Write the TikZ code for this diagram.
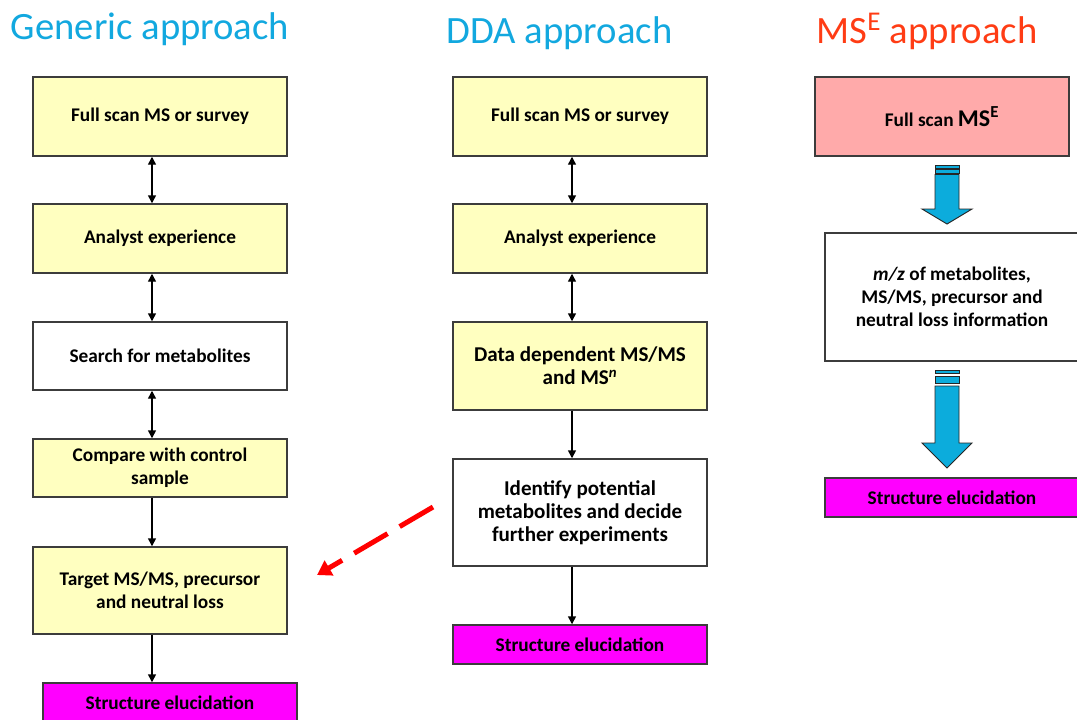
\documentclass[tikz,border=0pt]{standalone}
\usepackage{fontspec}
\setmainfont{Carlito}
\usetikzlibrary{arrows.meta}
\definecolor{titleblue}{RGB}{18,168,223}
\definecolor{titlered}{RGB}{255,60,20}
\definecolor{boxyellow}{RGB}{255,255,192}
\definecolor{boxpink}{RGB}{255,170,170}
\definecolor{boxmagenta}{RGB}{255,0,255}
\definecolor{boxline}{RGB}{60,60,60}
\definecolor{blockblue}{RGB}{12,172,220}
\begin{document}
\begin{tikzpicture}[x=0.75pt,y=-0.75pt,>={Triangle[length=6pt,width=6pt]},
	box/.style={draw=boxline,line width=1.1pt,minimum width=190.5pt,align=center,
		inner sep=2pt,font=\bfseries\fontsize{14.5}{17.3}\selectfont},
	bigtext/.style={font=\bfseries\fontsize{15.8}{17.4}\selectfont},
	yellowbox/.style={box,fill=boxyellow},
	whitebox/.style={box,fill=white},
	pinkbox/.style={box,fill=boxpink},
	resultbox/.style={box,fill=boxmagenta,minimum height=29.25pt},
	title/.style={anchor=base,font=\fontsize{29}{34}\selectfont},
	link/.style={line width=1.1pt,black},
	block/.style={fill=blockblue,draw=black!85,line width=0.7pt},
	dasharrow/.style={red,line width=3.75pt,dash pattern=on 29pt off 10.5pt,
		-{Triangle[length=10.5pt,width=12.5pt]}}]
	\useasboundingbox (0,0) rectangle (1077,719);
	\clip (0,0) rectangle (1077,719);
	% titles
	\node[title,text=titleblue] (tgen) at (150,39) {Generic approach};
	\node[title,text=titleblue] (tdda) at (559.5,43) {DDA approach};
	\node[title,text=titlered] (tmse) at (927,43) {MS\textsuperscript{E} approach};
	% generic approach
	\node[yellowbox,minimum height=59.25pt] (g1) at (160,116.5) {Full scan MS or survey};
	\node[yellowbox,minimum height=51.75pt] (g2) at (160,238.5) {Analyst experience};
	\node[whitebox,minimum height=51pt] (g3) at (160,356) {Search for metabolites};
	\node[yellowbox,minimum height=43.5pt] (g4) at (160,468) {Compare with control\\sample};
	\node[yellowbox,minimum height=65.25pt] (g5) at (160,590.5) {Target MS/MS, precursor\\and neutral loss};
	\node[resultbox] (g6) at (170,702.5) {Structure elucidation};
	\draw[link,<->] ([xshift=-6pt]g1.south) -- ([xshift=-6pt]g2.north);
	\draw[link,<->] ([xshift=-6pt]g2.south) -- ([xshift=-6pt]g3.north);
	\draw[link,<->] ([xshift=-6pt]g3.south) -- ([xshift=-6pt]g4.north);
	\draw[link,->] ([xshift=-6pt]g4.south) -- ([xshift=-6pt]g5.north);
	\draw[link,->] ([xshift=-6pt]g5.south) -- ([xshift=-6pt]g5.south|-g6.north);
	% DDA approach
	\node[yellowbox,minimum height=59.25pt] (d1) at (580,116.5) {Full scan MS or survey};
	\node[yellowbox,minimum height=51.75pt] (d2) at (580,238.5) {Analyst experience};
	\node[yellowbox,bigtext,minimum height=66pt] (d3) at (580,366) {Data dependent MS/MS\\and MS\textsuperscript{\itshape n}};
	\node[whitebox,bigtext,minimum height=80.25pt] (d4) at (580,512.5) {Identify potential\\metabolites and decide\\further experiments};
	\node[resultbox] (d5) at (580,644.5) {Structure elucidation};
	\draw[link,<->] ([xshift=-6pt]d1.south) -- ([xshift=-6pt]d2.north);
	\draw[link,<->] ([xshift=-6pt]d2.south) -- ([xshift=-6pt]d3.north);
	\draw[link,->] ([xshift=-6pt]d3.south) -- ([xshift=-6pt]d4.north);
	\draw[link,->] ([xshift=-6pt]d4.south) -- ([xshift=-6pt]d5.north);
	% MSE approach
	\node[pinkbox,minimum height=59.25pt] (m1) at (942,116.5) {Full scan {\fontsize{18}{20}\selectfont MS\textsuperscript{E}}};
	\node[whitebox,minimum height=96pt] (m2) at (952,297) {\textit{m/z} of metabolites,\\MS/MS, precursor and\\neutral loss information};
	\node[resultbox] (m3) at (952,497.5) {Structure elucidation};
	\filldraw[block] (935,165) rectangle (959,168);
	\filldraw[block] (935,169.5) rectangle (959,173);
	\filldraw[block] (935,174.5) -- (959,174.5) -- (959,209) -- (972,209) -- (947,224)
		-- (922,209) -- (935,209) -- cycle;
	\filldraw[block] (935,370) rectangle (959,373);
	\filldraw[block] (935,376) rectangle (959,383);
	\filldraw[block] (935,386) -- (959,386) -- (959,443) -- (972,443) -- (947,468)
		-- (922,443) -- (935,443) -- cycle;
	% red link DDA -> generic
	\coordinate (rs) at (433,507);
	\coordinate (re) at (317,575);
	\draw[dasharrow] (rs) -- (re);
\end{tikzpicture}
\end{document}
